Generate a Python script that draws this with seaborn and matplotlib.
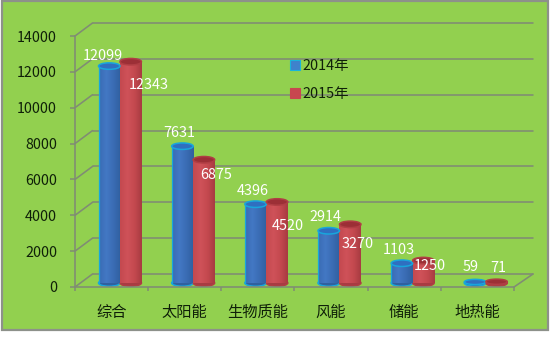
#!/usr/bin/env python
import numpy as np
import pandas as pd
import matplotlib
matplotlib.use("Agg")
import matplotlib.pyplot as plt
from matplotlib.lines import Line2D
from matplotlib.patches import Ellipse, Rectangle
from matplotlib.transforms import ScaledTranslation
import seaborn as sns

categories = ["综合", "太阳能", "生物质能", "风能", "储能", "地热能"]
years = ["2014年", "2015年"]
values_2014 = [12099, 7631, 4396, 2914, 1103, 59]
values_2015 = [12343, 6875, 4520, 3270, 1250, 71]
yticks = [0, 2000, 4000, 6000, 8000, 10000, 12000, 14000]

# label shift from top of bar, pixels
offsets_2014 = [(-6, 10), (-3, 13), (-3, 13), (-3, 14), (-3, 13), (-4, 15)]
offsets_2015 = [(18, -23), (12, -15), (11, -24), (7, -20), (6, -5), (2, 14)]

GREEN = "#92d04f"
GRID = "#808c74"
TEXT = "#0f2008"
body = {"2014年": ["#2f5f9f", "#4378c4", "#3a6cb4", "#30609f"],
        "2015年": ["#a03a42", "#cf5259", "#c4494f", "#a83c42"]}
edge = {"2014年": "#18a6dc", "2015年": "#b03e44"}
cap = {"2014年": "#2f6fc0", "2015年": "#9c2f36"}

sns.set_theme(style="white")
plt.rcParams["font.family"] = ["Noto Sans CJK SC", "DejaVu Sans"]

df = pd.DataFrame({
    "cat": categories * 2,
    "year": [years[0]] * 6 + [years[1]] * 6,
    "val": values_2014 + values_2015,
})

W, H = 550, 361
fig = plt.figure(figsize=(5.5, 3.61), dpi=100, facecolor="white")
fig.patches.append(Rectangle((1.5 / W, 1 - 330 / H), 546 / W, 329 / H, transform=fig.transFigure,
                             fc=GREEN, ec="#8d918a", lw=1.6, zorder=-5))

# axes = front plane of the fake 3d box
ax = fig.add_axes([75 / W, 1 - 287 / H, 439 / W, 251 / H])
ax.patch.set_alpha(0)

sns.barplot(data=df, x="cat", y="val", hue="year", order=categories, hue_order=years,
            width=0.587, gap=0, dodge=True, saturation=1, palette=["#3a6cb4", "#c0464e"],
            legend=False, ax=ax, zorder=3)
ax.set_xlim(-0.5, 5.5)
ax.set_ylim(0, 14000)

ppx = 6 / 439
ppy = 14000 / 251
mid = ax.transData + ScaledTranslation(8.4 / 100, 4 / 100, fig.dpi_scale_trans)

# back wall
bx, by = 17.5 * ppx, 13 * ppy
for v in yticks:
    ax.plot([-0.5 + bx, 5.5 + 19 * ppx], [v + by, v + by], color=GRID, lw=1.15, clip_on=False, zorder=1)
    ax.plot([-0.5, -0.5 + bx], [v, v + by], color=GRID, lw=1.15, clip_on=False, zorder=1)
ax.plot([5.5, 5.5 + 19 * ppx], [0, by], color=GRID, lw=1.15, clip_on=False, zorder=1)

# cylinders
grad = np.linspace(0, 1, 32)
for k, year in enumerate(years):
    cmap = matplotlib.colors.LinearSegmentedColormap.from_list(
        year, [body[year][2], body[year][1], body[year][2], body[year][3]])
    vals = [values_2014, values_2015][k]
    offs = [offsets_2014, offsets_2015][k]
    for i, bar in enumerate(ax.containers[k]):
        x, w, h = bar.get_x(), bar.get_width(), bar.get_height()
        ry = 6.5 * ppy
        bar.set_transform(mid)
        bar.set_visible(False)
        low = Ellipse((x + w / 2, 0), w, ry, fc=body[year][3], ec=edge[year], lw=1.1,
                      transform=mid, zorder=2.5, clip_on=False)
        ax.add_patch(low)
        im = ax.imshow(grad[None, :], extent=(x, x + w, 0, h), aspect="auto", cmap=cmap,
                       zorder=3, transform=mid, clip_on=False)
        if k == 0:
            ax.add_line(Line2D([x, x], [0, h], color=edge[year], lw=0.9, transform=mid, zorder=3.2, clip_on=False))
        top = Ellipse((x + w / 2, h), w, ry if h > 200 else ry * 0.8, fc=cap[year], ec=edge[year], lw=1.1,
                      transform=mid, zorder=3.5, clip_on=False)
        ax.add_patch(top)
        ax.annotate(str(vals[i]), xy=(x + w / 2, h), xycoords=mid, xytext=offs[i],
                    textcoords="offset pixels", ha="center", va="center", color="white",
                    fontsize=10.4, zorder=6, annotation_clip=False)

ax.set_xlim(-0.5, 5.5)
ax.set_ylim(0, 14000)

# axes cosmetics
for s in ["top", "right"]:
    ax.spines[s].set_visible(False)
for s in ["left", "bottom"]:
    ax.spines[s].set_color(GRID)
    ax.spines[s].set_linewidth(1.15)
ax.set_xlabel("")
ax.set_ylabel("")
ax.set_yticks(yticks)
ax.set_xticks(np.arange(-0.5, 6), minor=True)
ax.tick_params(axis="y", which="major", left=True, length=3.5, width=1.1, color=GRID,
               pad=9.5, labelsize=10.3, labelcolor=TEXT)
ax.tick_params(axis="x", which="major", bottom=False, length=0, pad=12, labelsize=11, labelcolor=TEXT)
ax.tick_params(axis="x", which="minor", bottom=True, length=3, width=1.1, color=GRID)
for t in ax.get_xticklabels():
    t.set_fontweight("medium")

handles = [Line2D([], [], ls="", marker="s", ms=6.5, mfc="#3f82cc", mec="#18b4dc", mew=0.8),
           Line2D([], [], ls="", marker="s", ms=6.5, mfc="#c8474f", mec="#c8474f", mew=0.8)]
ax.legend(handles, years, loc="upper left", bbox_to_anchor=(279 / W, 1 - 52 / H),
          bbox_transform=fig.transFigure, frameon=False, fontsize=10.4, labelspacing=0.93,
          handletextpad=-0.1, borderpad=0, labelcolor=TEXT, handlelength=1.2)

fig.savefig("out.png", dpi=100)
plt.close(fig)
